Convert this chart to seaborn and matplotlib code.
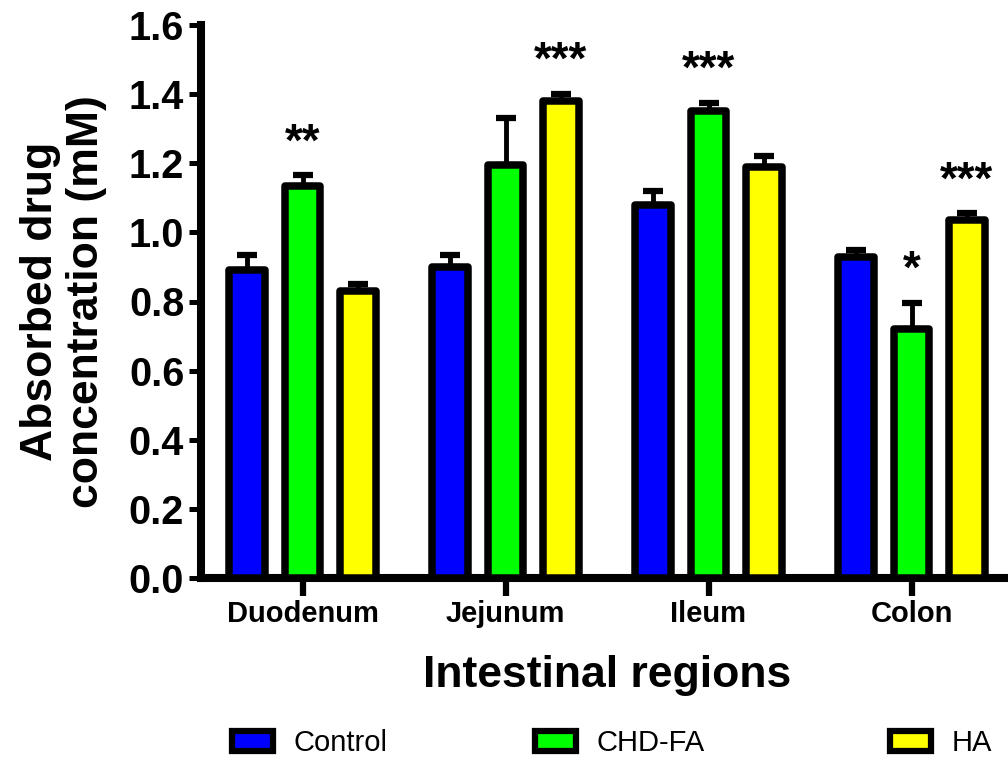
import matplotlib
matplotlib.use('Agg')
import matplotlib.pyplot as plt
import seaborn as sns
import pandas as pd
from matplotlib.patches import Patch
from matplotlib.ticker import FormatStrFormatter, MultipleLocator

# ---- data ----
regions = ['Duodenum', 'Jejunum', 'Ileum', 'Colon']
groups = ['Control', 'CHD-FA', 'HA']
control_mean = [0.89, 0.90, 1.08, 0.93]
control_err = [0.045, 0.035, 0.04, 0.02]
chdfa_mean = [1.135, 1.195, 1.35, 0.72]
chdfa_err = [0.03, 0.135, 0.025, 0.075]
ha_mean = [0.83, 1.38, 1.19, 1.035]
ha_err = [0.02, 0.02, 0.03, 0.02]
colors = ['#0000FF', '#00FF00', '#FFFF00']
sig_group = ['CHD-FA', 'HA', 'CHD-FA', 'CHD-FA', 'HA']
sig_region = ['Duodenum', 'Jejunum', 'Ileum', 'Colon', 'Colon']
sig_label = ['**', '***', '***', '*', '***']

means = {'Control': control_mean, 'CHD-FA': chdfa_mean, 'HA': ha_mean}
errs = {'Control': control_err, 'CHD-FA': chdfa_err, 'HA': ha_err}

rows = []
for g in groups:
    for r, m in zip(regions, means[g]):
        rows.append({'region': r, 'group': g, 'value': m})
df = pd.DataFrame(rows)

plt.rcParams['font.family'] = ['Liberation Sans', 'DejaVu Sans']

W, H = 1008, 759
fig = plt.figure(figsize=(W / 100, H / 100), dpi=100)
ax = fig.add_axes([201 / W, 1 - 578 / H, (1013 - 201) / W, (578 - 25) / H])

sns.barplot(data=df, x='region', y='value', hue='group', order=regions,
            hue_order=groups, palette=colors, saturation=1, width=0.82,
            gap=0.36, edgecolor='black', linewidth=5.4, errorbar=None,
            ax=ax, zorder=3)
if ax.get_legend() is not None:
    ax.get_legend().remove()

for g, cont in zip(groups, ax.containers):
    xs, ys, es = [], [], []
    for j, bar in enumerate(cont):
        bar.set_joinstyle('round')
        xs.append(bar.get_x() + bar.get_width() / 2)
        ys.append(bar.get_height())
        es.append(errs[g][j])
    ax.errorbar(xs, ys, yerr=[[0] * len(es), es], fmt='none', ecolor='black',
                elinewidth=3.5, capsize=7.5, capthick=4.5, zorder=2)

# significance marks
centers = {}
for g, cont in zip(groups, ax.containers):
    for r, bar in zip(regions, cont):
        centers[(g, r)] = bar.get_x() + bar.get_width() / 2
for g, r, s in zip(sig_group, sig_region, sig_label):
    j = regions.index(r)
    top = means[g][j] + errs[g][j]
    ax.annotate(s, (centers[(g, r)], top), xytext=(0, 14.5),
                textcoords='offset points', ha='center', va='baseline',
                fontsize=33, fontweight='bold')

ax.set_xlim(-0.5, 3.5)
ax.set_ylim(0, 1.6)
ax.yaxis.set_major_locator(MultipleLocator(0.2))
ax.yaxis.set_major_formatter(FormatStrFormatter('%.1f'))
for sp in ['top', 'right']:
    ax.spines[sp].set_visible(False)
for sp in ['left', 'bottom']:
    ax.spines[sp].set_linewidth(5.8)
    ax.spines[sp].set_capstyle('projecting')

ax.tick_params(axis='y', length=8.6, width=3.6, labelsize=28.5, pad=3.5)
ax.tick_params(axis='x', length=13, width=4.5, labelsize=21, pad=3)
for lab in ax.get_xticklabels() + ax.get_yticklabels():
    lab.set_fontweight('bold')

ax.set_xlabel('Intestinal regions', fontsize=32, fontweight='bold', labelpad=19)
ax.set_ylabel('Absorbed drug\nconcentration (mM)', fontsize=32,
              fontweight='bold', labelpad=16, linespacing=1.15)

# legend entries spread along the bottom
leg_x = [232 / W, 535 / W, 890 / W]
for g, c, x in zip(groups, colors, leg_x):
    h = Patch(facecolor=c, edgecolor='black', linewidth=4.5, joinstyle='round')
    fig.legend(handles=[h], labels=[g], loc='center left',
               bbox_to_anchor=(x, 16 / H), frameon=False, fontsize=21,
               handlelength=1.4, handleheight=0.7, handletextpad=0.7,
               borderpad=0, borderaxespad=0)

fig.savefig('out.png', dpi=100)
